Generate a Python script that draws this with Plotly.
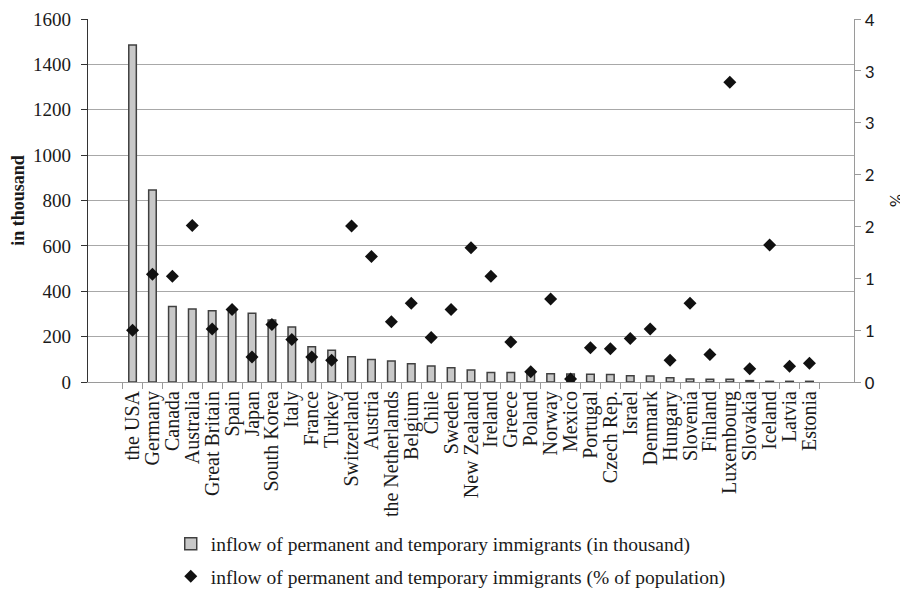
import plotly.graph_objects as go

countries = ["the USA", "Germany", "Canada", "Australia", "Great Britain", "Spain", "Japan",
             "South Korea", "Italy", "France", "Turkey", "Switzerland", "Austria",
             "the Netherlands", "Belgium", "Chile", "Sweden", "New Zealand", "Ireland",
             "Greece", "Poland", "Norway", "Mexico", "Portugal", "Czech Rep.", "Israel",
             "Denmark", "Hungary", "Slovenia", "Finland", "Luxembourg", "Slovakia",
             "Iceland", "Latvia", "Estonia"]

inflow_thousand = [1485, 846, 333, 322, 314, 308, 303, 273, 242, 155, 140, 111, 99,
                   93, 80, 71, 63, 53, 42, 42, 41, 36, 35, 34, 33, 28,
                   26, 19, 13, 12, 12, 6, 3, 3, 3]

inflow_pct = [0.50, 1.04, 1.02, 1.51, 0.51, 0.70, 0.24, 0.555, 0.41, 0.24, 0.21, 1.505, 1.21,
              0.58, 0.76, 0.43, 0.70, 1.295, 1.02, 0.386, 0.10, 0.80, 0.03, 0.33, 0.32, 0.42,
              0.51, 0.21, 0.76, 0.265, 2.89, 0.127, 1.32, 0.153, 0.18]

left_ticks = [0, 200, 400, 600, 800, 1000, 1200, 1400, 1600]
right_tickvals = [0, 0.5, 1.0, 1.5, 2.0, 2.5, 3.0, 3.5]
right_ticktext = ["0", "1", "1", "2", "2", "3", "3", "4"]

serif = "Liberation Serif, Times New Roman, serif"
sans = "Carlito, Open Sans, Liberation Sans, sans-serif"

fig = go.Figure()
fig.add_trace(go.Bar(
    x=countries, y=inflow_thousand,
    name="inflow of permanent and temporary immigrants (in thousand)",
    marker=dict(color="#c8c8c8", line=dict(color="#404040", width=1.5)),
    width=0.38, yaxis="y", legendgroup="a",
))
fig.add_trace(go.Scatter(
    x=countries, y=inflow_pct, mode="markers",
    name="inflow of permanent and temporary immigrants (% of population)",
    marker=dict(symbol="diamond", size=10, color="#111111"),
    yaxis="y2", legendgroup="b",
))

fig.update_layout(
    width=900, height=583,
    margin=dict(l=80, r=54, t=11, b=209, autoexpand=False),
    paper_bgcolor="white", plot_bgcolor="white",
    showlegend=True,
    legend=dict(orientation="v", x=0.108, xanchor="left", y=-0.393, yanchor="top",
                font=dict(family=serif, size=19.5, color="#1a1a1a"),
                itemwidth=30, tracegroupgap=4),
    xaxis=dict(
        type="category",
        tickmode="array", tickvals=countries,
        tickangle=-90,
        tickfont=dict(family=serif, size=20, color="#1a1a1a"),
        showline=True, linecolor="#9a9a9a", linewidth=1,
        ticks="outside", tickson="boundaries", ticklen=6, tickcolor="#9a9a9a",
        showgrid=False, automargin=False,
    ),
    yaxis=dict(
        range=[0, 1600], tickvals=left_ticks,
        tickfont=dict(family=serif, size=19, color="#1a1a1a"),
        ticklabeloverflow="allow", ticklabelstandoff=6,
        title=dict(text="<b>in thousand</b>", font=dict(family=serif, size=18, color="#1a1a1a"),
                   standoff=4),
        showline=True, linecolor="#333333", linewidth=1.2,
        ticks="outside", ticklen=6, tickcolor="#333333",
        showgrid=True, gridcolor="#a8a8a8", gridwidth=1,
        zeroline=False, automargin=False,
    ),
    yaxis2=dict(
        overlaying="y", side="right",
        range=[0, 3.5], tickvals=right_tickvals, ticktext=right_ticktext,
        tickfont=dict(family=sans, size=19, color="#1a1a1a"),
        ticklabeloverflow="allow",
        title=dict(text="%", font=dict(family=sans, size=18, color="#1a1a1a"), standoff=18),
        showline=True, linecolor="#9a9a9a", linewidth=1,
        ticks="outside", ticklen=6, tickcolor="#9a9a9a",
        showgrid=False, zeroline=False, automargin=False,
    ),
)

fig.write_html("out.html")
